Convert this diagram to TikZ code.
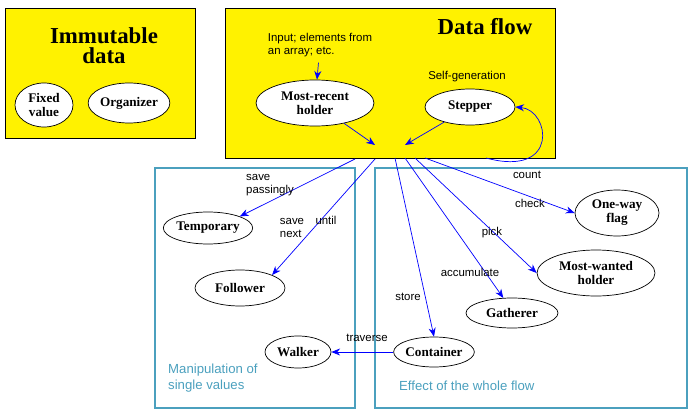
\documentclass[tikz,border=0pt]{standalone}
\usepackage{fontspec}
\setmainfont{Liberation Serif}
\setsansfont{Liberation Sans}
\usetikzlibrary{arrows.meta, shapes.geometric}
\definecolor{panelteal}{RGB}{75,160,190}
\definecolor{flowblue}{RGB}{0,0,255}
\tikzset{
  role/.style={ellipse, draw, fill=white, font=\fontsize{7.5}{8}\selectfont\bfseries, align=center, inner sep=0pt},
  tag/.style={font=\sffamily\fontsize{6.5}{7}\selectfont, align=left},
  flow/.style={draw=flowblue, -{Stealth[length=5pt,width=4pt]}}
}
\begin{document}
\begin{tikzpicture}[x=0.02cm, y=-0.02cm]
\useasboundingbox (0,0) rectangle (697,419);
\draw[fill=yellow] (5,8) rectangle (195,138);
\draw[fill=yellow] (225,8) rectangle (555,158);
\draw[panelteal, line width=1.3pt] (155,168) rectangle (355,408);
\draw[panelteal, line width=1.3pt] (375,168) rectangle (687,408);

\node[font=\fontsize{13}{11.5}\selectfont\bfseries, align=center] (immut) at (104,46) {Immutable\\data};
\node[font=\fontsize{13}{11.5}\selectfont\bfseries] (flowtitle) at (485,27) {Data flow};

\node[role, minimum width=1.16cm, minimum height=0.88cm] (fixed) at (44,105) {Fixed\\value};
\node[role, minimum width=1.44cm, minimum height=0.8cm] (organizer) at (129,103) {Organizer};
\node[role, minimum width=2.36cm, minimum height=0.92cm] (recent) at (315,103) {Most-recent\\holder};
\node[role, minimum width=1.8cm, minimum height=0.72cm] (stepper) at (470,107) {Stepper};
\node[role, minimum width=1.72cm, minimum height=0.64cm] (temporary) at (208,228) {Temporary};
\node[role, minimum width=1.8cm, minimum height=0.72cm] (follower) at (240,288) {Follower};
\node[role, minimum width=1.68cm, minimum height=0.92cm] (oneway) at (617,213) {One-way\\flag};
\node[role, minimum width=2.36cm, minimum height=0.92cm] (wanted) at (596,273) {Most-wanted\\holder};
\node[role, minimum width=1.84cm, minimum height=0.6cm] (gatherer) at (512,313) {Gatherer};
\node[role, minimum width=1.6cm, minimum height=0.6cm] (container) at (434,352) {Container};
\node[role, minimum width=1.32cm, minimum height=0.64cm] (walker) at (298,352) {Walker};

\node[tag, align=left] (input) at (320,45) {Input; elements from\\an array; etc.};
\node[tag] (selfgen) at (467,77) {Self-generation};

% meeting points of the flow
\coordinate (inA) at (375,145);
\coordinate (inB) at (405,145);
\coordinate (outA) at (355,159);
\coordinate (outB) at (375,159);
\coordinate (outC) at (395,158);
\coordinate (outD) at (405,158);
\coordinate (outE) at (415,158);
\coordinate (outF) at (425,158);
\coordinate (outG) at (486,158);

\draw[flow] (input) -- (recent);
\draw[flow] (recent) -- (inA);
\draw[flow] (stepper) -- (inB);
\draw[flow] (outG) .. controls (560,178) and (550,110) .. (stepper.east);
\draw[flow] (outA) -- (temporary.north east);
\draw[flow] (outB) -- (follower.north east);
\draw[flow] (outC) -- (container.north);
\draw[flow] (outD) -- (gatherer.120);
\draw[flow] (outE) -- (wanted.west);
\draw[flow] (outF) -- (oneway.west);
\draw[flow] (container) -- (walker);

\node[tag] (lpass) at (270,185) {save\\passingly};
\node[tag] (lnext) at (292,228) {save\\next};
\node[tag] (luntil) at (326,220) {until};
\node[tag] (lcount) at (527,175) {count};
\node[tag] (lcheck) at (530,203) {check};
\node[tag] (lpick) at (492,233) {pick};
\node[tag] (lacc) at (470,272) {accumulate};
\node[tag] (lstore) at (408,297) {store};
\node[tag] (ltrav) at (367,338) {traverse};

\node[tag, text=panelteal, font=\sffamily\fontsize{7.5}{9}\selectfont, anchor=west] (lmanip) at (162,378) {Manipulation of\\single values};
\node[tag, text=panelteal, font=\sffamily\fontsize{7.5}{9}\selectfont, anchor=west] (leffect) at (393,386) {Effect of the whole flow};
\end{tikzpicture}
\end{document}
